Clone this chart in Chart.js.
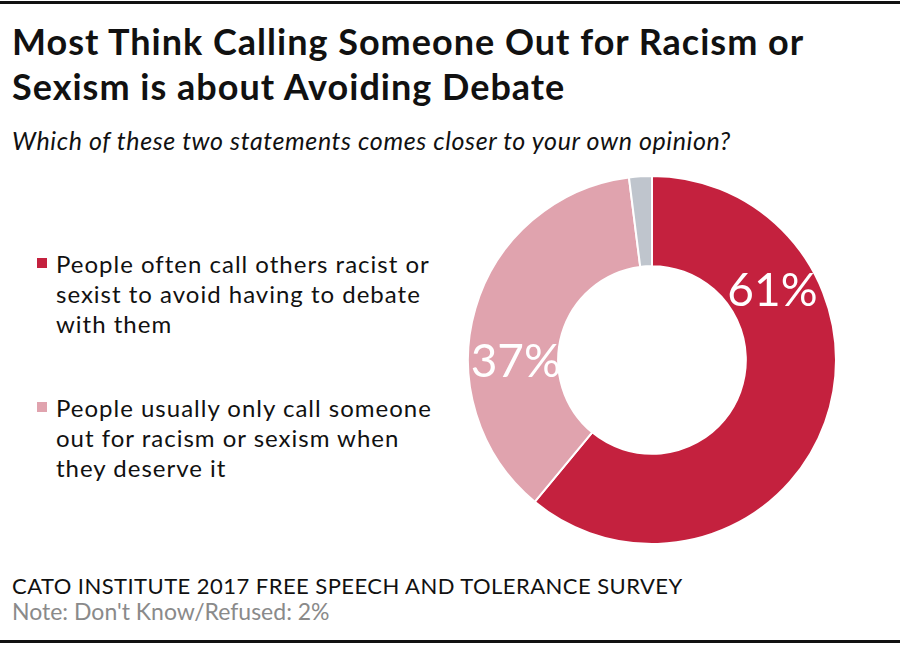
<!DOCTYPE html>
<html>
<head>
<meta charset="utf-8">
<script src="https://cdn.jsdelivr.net/npm/chart.js@4.4.0/dist/chart.umd.min.js"></script>
<style>
  body { margin: 0; background: #fff; }
  #wrap { position: relative; width: 900px; height: 645px; font-family: Lato, "Open Sans", sans-serif; color: #111; overflow: hidden; }
  .rule { position: absolute; left: 0; width: 900px; background: #111; }
  h1 { position: absolute; left: 12px; top: 19px; margin: 0; font-size: 36px; font-weight: 700; line-height: 45px; letter-spacing: 1px; white-space: nowrap; }
  .sub { position: absolute; left: 12px; top: 125px; font-size: 25px; font-style: italic; letter-spacing: 0.6px; white-space: nowrap; }
  .legend { position: absolute; left: 36px; width: 440px; font-size: 24px; line-height: 30px; letter-spacing: 1px; }
  .legend .sw { position: absolute; left: 1px; top: 9px; width: 10px; height: 10px; }
  .legend .tx { margin-left: 20px; }
  .src { position: absolute; left: 12px; top: 572px; font-size: 22px; letter-spacing: 0.45px; white-space: nowrap; }
  .note { position: absolute; left: 12px; top: 597px; font-size: 23px; color: #8a8a8a; white-space: nowrap; }
  #pie { position: absolute; left: 467px; top: 175px; }
</style>
</head>
<body>
<div id="wrap">
  <div class="rule" style="top:1px;height:3px"></div>
  <h1>Most Think Calling Someone Out for Racism or<br>Sexism is about Avoiding Debate</h1>
  <div class="sub">Which of these two statements comes closer to your own opinion?</div>
  <div id="legend"></div>
  <div class="src">CATO INSTITUTE 2017 FREE SPEECH AND TOLERANCE SURVEY</div>
  <div class="note">Note: Don't Know/Refused: 2%</div>
  <div class="rule" style="top:640px;height:3px"></div>
  <canvas id="pie" width="370" height="370"></canvas>
</div>
<script>
const categories = [
  'People often call others racist or sexist to avoid having to debate with them',
  'People usually only call someone out for racism or sexism when they deserve it',
  "Don't Know/Refused"
];
// legend text broken as in the original
const legendLines = [
  ['People often call others racist or', 'sexist to avoid having to debate', 'with them'],
  ['People usually only call someone', 'out for racism or sexism when', 'they deserve it']
];
const values = [61, 37, 2];
const colors = ['#C4213E', '#E0A3AE', '#BFC5CD'];
const valueLabels = ['61%', '37%', ''];

// legend (first two categories only)
const legendTops = [249, 393];
const legendEl = document.getElementById('legend');
[0, 1].forEach(i => {
  const item = document.createElement('div');
  item.className = 'legend';
  item.style.top = legendTops[i] + 'px';
  item.innerHTML = '<span class="sw" style="background:' + colors[i] + '"></span><div class="tx"></div>';
  const tx = item.querySelector('.tx');
  legendLines[i].forEach((line, k) => {
    if (k) tx.appendChild(document.createElement('br'));
    tx.appendChild(document.createTextNode(line));
  });
  legendEl.appendChild(item);
});

// label placement inside each arc: fraction along the arc and radius factor in the ring
const labelPos = [
  { frac: 0.271, r: 0.51 },
  { frac: 0.378, r: 0.47 }
];

const arcLabels = {
  id: 'arcLabels',
  afterDatasetsDraw(chart) {
    const ctx = chart.ctx;
    const meta = chart.getDatasetMeta(0);
    let hole = null;
    ctx.save();
    ctx.fillStyle = '#fff';
    ctx.font = '400 46px Lato, sans-serif';
    ctx.textAlign = 'center';
    ctx.textBaseline = 'middle';
    meta.data.forEach((arc, i) => {
      hole = arc;
      if (!valueLabels[i]) return;
      const p = labelPos[i];
      const a = arc.startAngle + (arc.endAngle - arc.startAngle) * p.frac;
      const r = arc.innerRadius + (arc.outerRadius - arc.innerRadius) * p.r;
      ctx.fillText(valueLabels[i], arc.x + Math.cos(a) * r, arc.y + Math.sin(a) * r + 2);
    });
    // the hole covers labels that run into it, as in the original
    if (hole) {
      ctx.beginPath();
      ctx.arc(hole.x, hole.y, hole.innerRadius, 0, Math.PI * 2);
      ctx.fill();
    }
    ctx.restore();
  }
};

new Chart(document.getElementById('pie').getContext('2d'), {
  type: 'doughnut',
  data: {
    labels: categories,
    datasets: [{
      data: values,
      backgroundColor: colors,
      borderColor: '#fff',
      borderWidth: 2
    }]
  },
  options: {
    responsive: false,
    animation: false,
    cutout: '51%',
    plugins: {
      legend: { display: false },
      tooltip: { enabled: false }
    }
  },
  plugins: [arcLabels]
});
</script>
</body>
</html>
